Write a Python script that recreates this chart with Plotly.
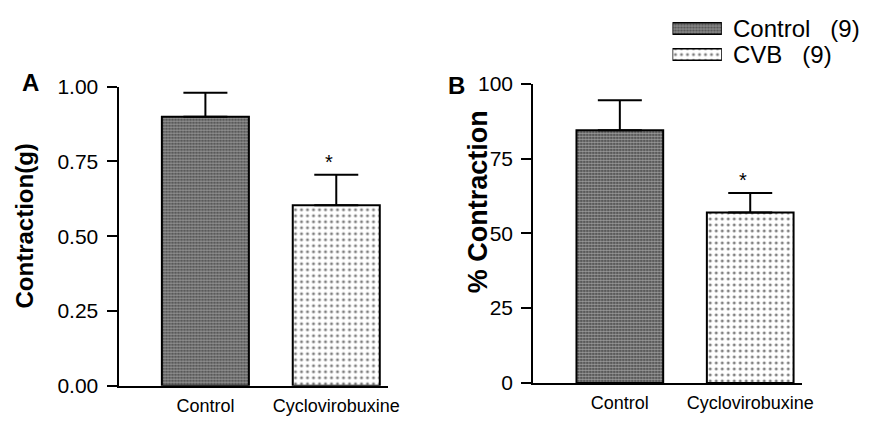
import plotly.graph_objects as go

W, H = 881, 427

categories = ["Control", "Cyclovirobuxine"]
contraction_g = [0.900, 0.604]
contraction_g_sem = [0.080, 0.102]
pct_contraction = [84.5, 57.0]
pct_contraction_sem = [10.0, 6.5]
y_ticks_a = [0, 0.25, 0.5, 0.75, 1.0]
y_ticktext_a = ["0.00", "0.25", "0.50", "0.75", "1.00"]
y_ticks_b = [0, 25, 50, 75, 100]
legend_labels = ["Control\u00a0\u00a0\u00a0(9)", "CVB\u00a0\u00a0\u00a0(9)"]

FONT = "Liberation Sans, Arial, Helvetica, sans-serif"

def px_x(p):
    return p / W

def px_y(p):
    return 1 - p / H

ctrl_pattern = dict(shape=".", size=3, solidity=0.62, fgcolor="white", bgcolor="#383838")
cvb_pattern = dict(shape=".", size=6, solidity=0.2, fgcolor="black", bgcolor="white")

fig = go.Figure()

xpos = [0, 1]

def add_panel(vals, sems, xa, ya):
    for i in range(2):
        fig.add_trace(go.Bar(
            x=[xpos[i]], y=[vals[i]], width=0.665,
            marker=dict(color="white", pattern=ctrl_pattern if i == 0 else cvb_pattern,
                        line=dict(color="black", width=2)),
            error_y=dict(type="data", symmetric=False, array=[sems[i]], arrayminus=[0],
                         color="black", thickness=2, width=22),
            xaxis=xa, yaxis=ya, showlegend=False, hoverinfo="skip",
        ))

add_panel(contraction_g, contraction_g_sem, "x", "y")
add_panel(pct_contraction, pct_contraction_sem, "x2", "y2")

# legend swatches on a hidden axis
for i, pat in enumerate([ctrl_pattern, cvb_pattern]):
    fig.add_trace(go.Bar(
        y=[1 - i], x=[1], base=[0], orientation="h", width=0.44,
        marker=dict(color="white", pattern=pat, line=dict(color="black", width=1.5)),
        xaxis="x3", yaxis="y3", showlegend=False, hoverinfo="skip",
    ))

xaxis_common = dict(
    range=[-0.664, 1.396], tickvals=xpos, ticktext=categories,
    showline=True, linecolor="black", linewidth=2, ticks="",
    showgrid=False, zeroline=False, ticklabelstandoff=3,
    tickfont=dict(family=FONT, size=18, color="black"),
)
yaxis_common = dict(
    showline=True, linecolor="black", linewidth=2, ticks="outside", ticklen=10,
    tickwidth=2, tickcolor="black", showgrid=False, zeroline=False,
    tickfont=dict(family=FONT, size=21, color="black"), ticklabelstandoff=4,
)

fig.update_layout(
    width=W, height=H, margin=dict(l=0, r=0, t=0, b=0),
    paper_bgcolor="white", plot_bgcolor="white", barmode="overlay",
    xaxis=dict(domain=[px_x(120), px_x(393)], anchor="y", **xaxis_common),
    yaxis=dict(domain=[px_y(395), px_y(79)], anchor="x", range=[0, 1.0],
               tickvals=y_ticks_a, ticktext=y_ticktext_a, **yaxis_common),
    xaxis2=dict(domain=[px_x(540), px_x(812)], anchor="y2", **xaxis_common),
    yaxis2=dict(domain=[px_y(392), px_y(76)], anchor="x2", range=[0, 100],
                tickvals=y_ticks_b, **yaxis_common),
    xaxis3=dict(domain=[px_x(681), px_x(731)], anchor="y3", range=[0, 1], visible=False),
    yaxis3=dict(domain=[px_y(58.75), px_y(3.75)], anchor="x3", range=[-0.5, 1.5], visible=False),
    showlegend=False,
)

def paper_ann(text, x, y, size, angle=0):
    return dict(text=text, x=px_x(x), y=px_y(y), xref="paper", yref="paper",
                xanchor="center", yanchor="middle", textangle=angle, showarrow=False,
                font=dict(family=FONT, size=size, color="black"))

ann = [
    paper_ann("<b>Contraction(g)</b>", 25, 226, 24, -90),
    paper_ann("<b>% Contraction</b>", 484, 200, 27, -90),
    paper_ann("<b>A</b>", 31, 74, 24),
    paper_ann("<b>B</b>", 462, 78, 24),
]
# significance stars
ann.append(dict(text="*", x=1, y=contraction_g[1] + contraction_g_sem[1], xref="x", yref="y",
                xshift=-7, yshift=0, xanchor="center", yanchor="bottom", showarrow=False,
                font=dict(family=FONT, size=20, color="black")))
ann.append(dict(text="*", x=1, y=pct_contraction[1] + pct_contraction_sem[1], xref="x2", yref="y2",
                xshift=-7, yshift=0, xanchor="center", yanchor="bottom", showarrow=False,
                font=dict(family=FONT, size=20, color="black")))
# legend labels
for i, lab in enumerate(legend_labels):
    ann.append(dict(text=lab, x=1, y=1 - i, xref="x3", yref="y3", showarrow=False,
                    xanchor="left", yanchor="middle", xshift=9,
                    font=dict(family=FONT, size=24, color="black")))
fig.update_layout(annotations=ann)

fig.write_html("out.html")
